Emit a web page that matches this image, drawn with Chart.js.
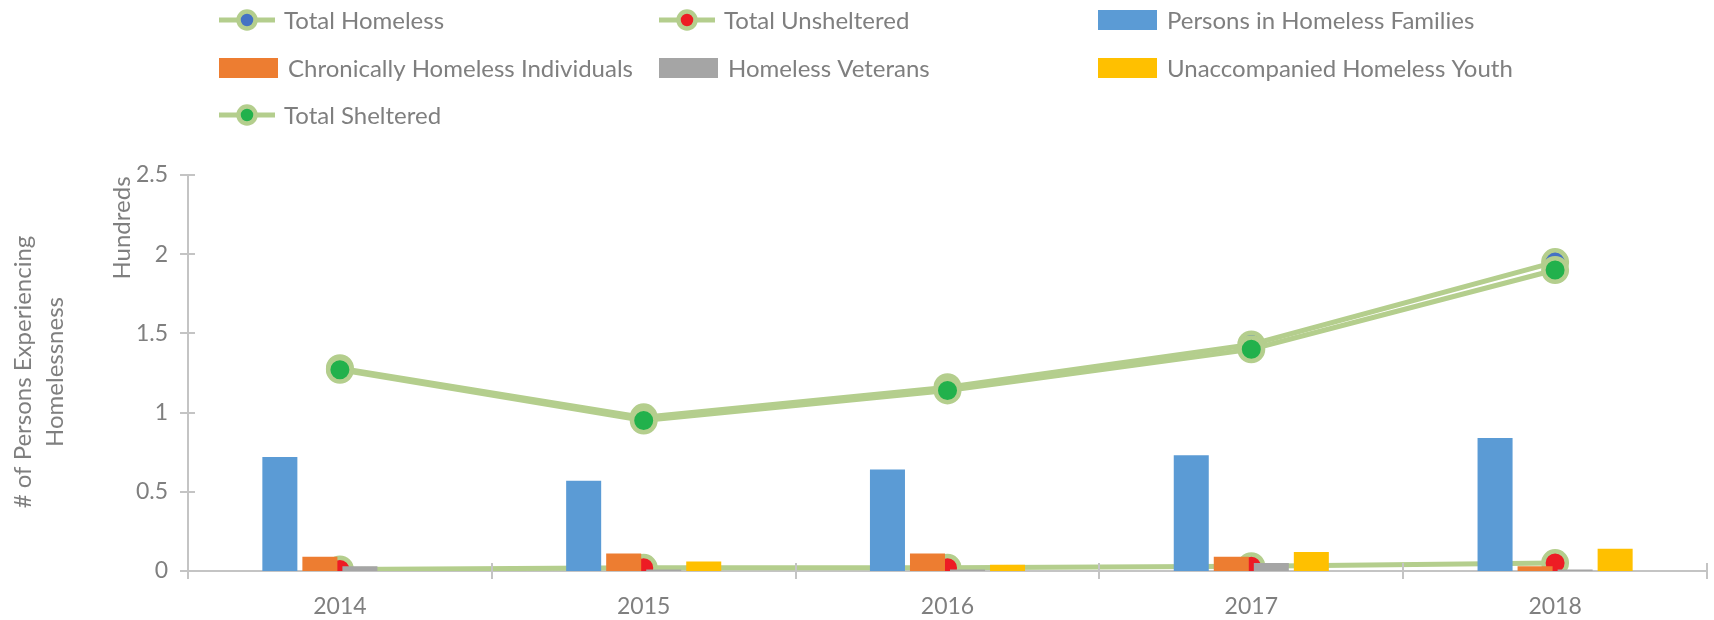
<!DOCTYPE html>
<html><head><meta charset="utf-8">
<script src="https://cdn.jsdelivr.net/npm/chart.js@4.4.1/dist/chart.umd.min.js"></script>
<style>html,body{margin:0;padding:0;background:#fff;}#wrap{width:1714px;height:620px;position:relative;}</style>
</head><body><div id="wrap"><canvas id="c" width="1714" height="620"></canvas></div>
<script>
const years = ['2014', '2015', '2016', '2017', '2018'];
const totalHomeless = [128, 97, 116, 143, 195];
const totalUnsheltered = [1, 2, 2, 3, 5];
const totalSheltered = [127, 95, 114, 140, 190];
const personsInFamilies = [72, 57, 64, 73, 84];
const chronicIndividuals = [9, 11, 11, 9, 3];
const homelessVeterans = [3, 1, 1, 5, 1];
const unaccompaniedYouth = [0, 6, 4, 12, 14];
const yTickValues = [0, 50, 100, 150, 200, 250];
const yUnitLabel = 'Hundreds';
const yTitleLines = ['# of Persons Experiencing', 'Homelessness'];
const legendOrder = ['Total Homeless', 'Total Unsheltered', 'Persons in Homeless Families',
  'Chronically Homeless Individuals', 'Homeless Veterans', 'Unaccompanied Homeless Youth', 'Total Sheltered'];

const FONT = 'Lato';
const TXT = '#7f7f7f';
const AXIS = '#c4c4c4';
const LINEG = '#b4ce8d';

function lineDs(label, data, fill, order) {
  return { type: 'line', label, data, borderColor: LINEG, borderWidth: 5, tension: 0,
    pointRadius: 11.75, pointHoverRadius: 11.75, pointBorderWidth: 4.5, pointBackgroundColor: fill,
    pointBorderColor: LINEG, fill: false, order };
}
function barDs(label, data, color) {
  return { type: 'bar', label, data, backgroundColor: color, borderWidth: 0, order: 0,
    categoryPercentage: 0.527, barPercentage: 0.875 };
}

const datasets = [
  lineDs('Total Homeless', totalHomeless, '#4472c4', 2),
  lineDs('Total Unsheltered', totalUnsheltered, '#ed1c24', 3),
  barDs('Persons in Homeless Families', personsInFamilies, '#5b9bd5'),
  barDs('Chronically Homeless Individuals', chronicIndividuals, '#ed7d31'),
  barDs('Homeless Veterans', homelessVeterans, '#a5a5a5'),
  barDs('Unaccompanied Homeless Youth', unaccompaniedYouth, '#ffc000'),
  lineDs('Total Sheltered', totalSheltered, '#22b14c', 1)
];

const custom = {
  id: 'custom',
  afterDraw(chart) {
    const ctx = chart.ctx, xs = chart.scales.x, ys = chart.scales.y;
    ctx.save();
    ctx.strokeStyle = AXIS; ctx.lineWidth = 2;
    yTickValues.forEach(v => {
      const y = Math.round(ys.getPixelForValue(v));
      ctx.beginPath(); ctx.moveTo(ys.right - 8, y); ctx.lineTo(ys.right + 7, y); ctx.stroke();
    });
    const n = years.length;
    for (let i = 0; i <= n; i++) {
      const x = Math.round(xs.left + (xs.right - xs.left) * i / n);
      ctx.beginPath(); ctx.moveTo(x, xs.top - 8); ctx.lineTo(x, xs.top + 8); ctx.stroke();
    }
    // axis titles
    ctx.fillStyle = TXT;
    ctx.textAlign = 'center'; ctx.textBaseline = 'middle';
    ctx.font = '24px ' + FONT;
    ctx.save(); ctx.translate(122, 228); ctx.rotate(-Math.PI / 2); ctx.fillText(yUnitLabel, 0, 0); ctx.restore();
    const tx = [23, 55];
    yTitleLines.forEach((t, i) => {
      ctx.save(); ctx.translate(tx[i], 372); ctx.rotate(-Math.PI / 2); ctx.fillText(t, 0, 0); ctx.restore();
    });
    // legend
    const colX = [219, 659, 1098], rowY = [20, 68, 115];
    ctx.textAlign = 'left';
    legendOrder.forEach((lab, i) => {
      const ds = chart.data.datasets.find(d => d.label === lab);
      const x = colX[i % 3], y = rowY[Math.floor(i / 3)];
      let textX;
      if (ds.type === 'line') {
        ctx.strokeStyle = LINEG; ctx.lineWidth = 5;
        ctx.beginPath(); ctx.moveTo(x, y); ctx.lineTo(x + 56, y); ctx.stroke();
        ctx.beginPath(); ctx.arc(x + 28, y, 8.5, 0, Math.PI * 2);
        ctx.fillStyle = ds.pointBackgroundColor; ctx.fill();
        ctx.lineWidth = 4.5; ctx.stroke();
        textX = x + 65;
      } else {
        ctx.fillStyle = ds.backgroundColor; ctx.fillRect(x, y - 10, 59, 20);
        textX = x + 69;
      }
      ctx.fillStyle = TXT; ctx.fillText(lab, textX, y + 1);
    });
    ctx.restore();
  }
};

new Chart(document.getElementById('c'), {
  data: { labels: years, datasets },
  options: {
    responsive: false, animation: false,
    layout: { autoPadding: false, padding: { top: 175, right: 7, left: 0, bottom: 0 } },
    plugins: { legend: { display: false }, tooltip: { enabled: false } },
    scales: {
      x: {
        offset: true,
        grid: { display: false, drawTicks: false },
        border: { color: AXIS, width: 2 },
        ticks: { color: TXT, font: { family: FONT, size: 23 }, padding: 22 },
        afterFit(s) { s.height = 49; }
      },
      y: {
        min: 0, max: 250,
        afterBuildTicks(s) { s.ticks = yTickValues.map(v => ({ value: v })); },
        grid: { display: false, drawTicks: false },
        border: { color: AXIS, width: 2 },
        ticks: { color: TXT, font: { family: FONT, size: 23 }, padding: 20,
          callback: v => String(v / 100) },
        afterFit(s) { s.width = 188; }
      }
    }
  },
  plugins: [custom]
});
</script></body></html>
